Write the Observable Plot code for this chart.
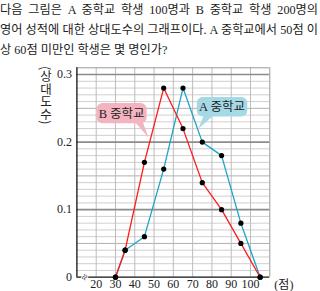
<!DOCTYPE html>
<html><head><meta charset="utf-8">
<script src="https://cdn.jsdelivr.net/npm/d3@7"></script>
<script src="https://cdn.jsdelivr.net/npm/@observablehq/plot@0.6"></script>
<style>
body{margin:0;background:#fff;}
#title{font-family:"Liberation Serif","Noto Sans CJK KR",serif;font-size:12.2px;line-height:20px;color:#222;width:318px;height:60px;}
#title div{white-space:nowrap;}
#title .j{text-align:justify;text-align-last:justify;}
</style></head><body>
<div id="title">
<div class="j">다음 그림은 A 중학교 학생 100명과 B 중학교 학생 200명의</div>
<div class="j">영어 성적에 대한 상대도수의 그래프이다. A 중학교에서 50점 이</div>
<div>상 60점 미만인 학생은 몇 명인가?</div>
</div>
<div id="chart"></div>
<script>
// data
const scores = [30, 35, 45, 55, 65, 75, 85, 95, 105];
const relFreqA = [0, 0.04, 0.06, 0.16, 0.28, 0.20, 0.18, 0.08, 0];
const relFreqB = [0, 0.04, 0.17, 0.28, 0.22, 0.14, 0.10, 0.05, 0];
const xTicks = [20, 30, 40, 50, 60, 70, 80, 90, 100];
const yTicks = [0, 0.1, 0.2, 0.3];
const seriesNames = ["A 중학교", "B 중학교"];
const yLabel = "(상대도수)";
const xUnit = "(점)";

const A = scores.map((s, i) => ({x: s, y: relFreqA[i], s: "A"}));
const B = scores.map((s, i) => ({x: s, y: relFreqB[i], s: "B"}));

const minor = d3.range(1, 31).map(i => i / 100).filter(v => Math.round(v * 100) % 10 !== 0);
const mid = minor.filter(v => Math.round(v * 100) % 5 === 0);
const thin = minor.filter(v => Math.round(v * 100) % 5 !== 0);

// callout bubbles (data coords)
const bubbles = [
  {label: seriesNames[1], x1: 20.5, x2: 46.4, y1: 0.227, y2: 0.257, b1: 40.5, b2: 44.5, tx: 47.3, ty: 0.206, fill: "#f4b3c0"},
  {label: seriesNames[0], x1: 72.4, x2: 98.6, y1: 0.237, y2: 0.266, b1: 76.0, b2: 81.0, tx: 73.2, ty: 0.219, fill: "#a6d9e6"}
];

function bubbleMark(index, scales) {
  const g = d3.create("svg:g");
  for (const b of bubbles) {
    const X1 = scales.x(b.x1), X2 = scales.x(b.x2), Y1 = scales.y(b.y2), Y2 = scales.y(b.y1);
    g.append("path")
      .attr("d", `M${scales.x(b.b1)},${Y2 - 1}L${scales.x(b.tx)},${scales.y(b.ty)}L${scales.x(b.b2)},${Y2 - 1}Z`)
      .attr("fill", b.fill);
    g.append("rect").attr("x", X1).attr("y", Y1).attr("width", X2 - X1).attr("height", Y2 - Y1)
      .attr("rx", 6).attr("fill", b.fill);
    g.append("text").attr("x", (X1 + X2) / 2).attr("y", (Y1 + Y2) / 2).attr("dy", "0.35em")
      .attr("text-anchor", "middle").attr("font-size", 12.5).attr("fill", "#222")
      .attr("font-family", '"Liberation Serif","Noto Sans CJK KR",serif')
      .text(b.label);
  }
  return g.node();
}

function yLabelMark() {
  const t = d3.create("svg:text")
    .attr("x", 46).attr("y", 6)
    .attr("writing-mode", "vertical-rl")
    .attr("text-anchor", "start")
    .attr("font-size", 12.5).attr("fill", "#222")
    .attr("font-family", '"Noto Sans CJK KR",sans-serif')
    .text(yLabel);
  return t.node();
}

const plot = Plot.plot({
  width: 320, height: 231,
  marginLeft: 76.4, marginRight: 50.7, marginTop: 7.3, marginBottom: 14.3,
  style: {fontFamily: '"Liberation Serif", serif', fontSize: "12px", color: "#222", background: "#fff", overflow: "visible"},
  x: {domain: [10, 110], ticks: xTicks, tickSize: 0, tickPadding: 2, label: null},
  y: {domain: [0, 0.31], ticks: yTicks, tickSize: 0, tickPadding: 5, label: null,
      tickFormat: d => d === 0 ? "0" : d.toFixed(1)},
  marks: [
    Plot.ruleY(thin, {stroke: "#cfcfcf", strokeWidth: 1}),
    Plot.ruleY(mid, {stroke: "#b0b0b0", strokeWidth: 1}),
    Plot.ruleX(xTicks, {stroke: "#bdbdbd", strokeWidth: 1}),
    Plot.ruleY([0.1, 0.2, 0.3], {stroke: "#8c8c8c", strokeWidth: 1.6}),
    Plot.ruleY([0.31], {stroke: "#999", strokeWidth: 1}),
    Plot.ruleX([110], {stroke: "#999", strokeWidth: 1}),
    Plot.ruleX([10], {stroke: "#111", strokeWidth: 1.3}),
    Plot.ruleY([0], {stroke: "#111", strokeWidth: 1.3}),
    Plot.text(["≈"], {x: 14, y: 0, rotate: -60, fontSize: 11, fill: "#222", stroke: "#fff", strokeWidth: 2}),
    bubbleMark,
    Plot.line(A, {x: "x", y: "y", stroke: "#1ea4c4", strokeWidth: 1.3}),
    Plot.line(B, {x: "x", y: "y", stroke: "#ff1a1a", strokeWidth: 1.3}),
    Plot.dot(A.concat(B), {x: "x", y: "y", r: 2.6, fill: "#000"}),
    Plot.text([xUnit], {x: 117.3, y: 0, dy: 7.5, fontSize: 12, fill: "#222", fontFamily: '"Liberation Serif","Noto Sans CJK KR",serif'}),
    yLabelMark
  ]
});
document.getElementById("chart").appendChild(plot);
</script>
</body></html>
